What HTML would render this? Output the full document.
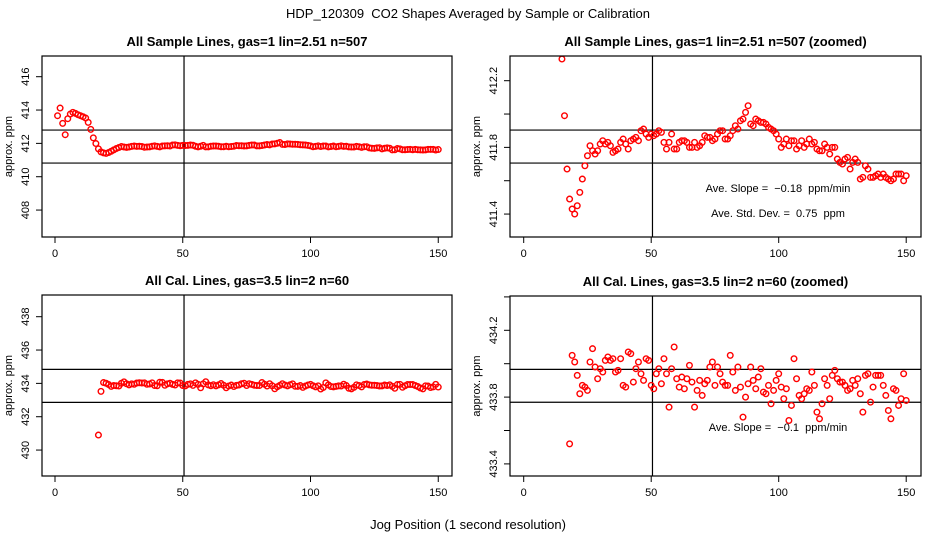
<!DOCTYPE html>
<html><head><meta charset="utf-8">
<style>
html,body{margin:0;padding:0;background:#fff;width:936px;height:540px;overflow:hidden;}
svg{display:block;font-family:"Liberation Sans",Arial,sans-serif;}
svg text{white-space:pre;}
</style></head>
<body>
<svg id="chart" width="936" height="540" viewBox="0 0 936 540">
<text x="468" y="18" text-anchor="middle" font-size="13">HDP_120309  CO2 Shapes Averaged by Sample or Calibration</text>
<text x="468" y="529" text-anchor="middle" font-size="13">Jog Position (1 second resolution)</text>
</svg>
<script>
const sampleStart = 1;
const sampleValues = [413.66,414.12,413.2,412.52,413.48,413.76,413.86,413.8,413.72,413.66,413.6,413.52,413.26,412.84,
412.33,411.99,411.67,411.49,411.43,411.40,411.45,411.53,411.61,411.69,411.75,411.81,411.78,411.76,411.78,411.82,
411.84,411.82,411.83,411.81,411.77,411.78,411.79,411.83,411.85,411.82,411.79,411.84,411.85,411.86,411.84,411.90,
411.91,411.88,411.86,411.88,411.87,411.88,411.90,411.89,411.83,411.79,411.83,411.88,411.79,411.79,411.83,411.84,
411.84,411.83,411.80,411.80,411.83,411.80,411.81,411.83,411.87,411.86,411.86,411.84,411.85,411.88,411.90,411.90,
411.85,411.85,411.87,411.90,411.93,411.91,411.96,411.97,412.01,412.05,411.94,411.93,411.97,411.96,411.95,411.95,
411.94,411.92,411.91,411.90,411.88,411.85,411.80,411.82,411.85,411.81,411.84,411.84,411.79,411.81,411.84,411.80,
411.82,411.85,411.82,411.83,411.79,411.78,411.78,411.82,411.80,411.76,411.80,411.80,411.73,411.71,411.70,411.73,
411.74,411.67,411.71,411.73,411.71,411.61,411.62,411.69,411.67,411.62,411.62,411.63,411.64,411.62,411.64,411.62,
411.61,411.60,411.61,411.64,411.64,411.64,411.60,411.63];
const calStart = 17;
const calValues = [430.9,433.52,434.05,434.01,433.93,433.82,433.87,433.86,433.84,434.01,434.09,433.98,433.91,433.97,
433.95,434.02,434.04,434.02,434.03,433.95,433.96,434.03,433.87,433.86,434.07,434.06,433.89,433.97,434.01,433.94,
433.90,434.03,434.02,433.87,433.85,433.94,433.97,433.88,434.03,433.94,433.74,433.97,434.10,433.91,433.86,433.92,
433.85,433.91,433.99,433.89,433.74,433.84,433.90,433.81,433.88,433.90,433.98,434.01,433.87,433.98,433.94,433.89,
433.87,433.87,434.05,433.95,433.84,433.98,433.86,433.68,433.80,433.88,433.98,433.90,433.85,433.92,433.97,433.83,
433.82,433.87,433.76,433.84,433.90,433.94,433.86,433.79,433.85,433.66,433.75,434.03,433.91,433.81,433.79,433.82,
433.85,433.84,433.95,433.87,433.71,433.67,433.76,433.91,433.87,433.79,433.93,433.96,433.91,433.89,433.89,433.87,
433.84,433.85,433.90,433.87,433.91,433.82,433.71,433.93,433.94,433.77,433.86,433.93,433.93,433.93,433.87,433.81,
433.72,433.67,433.85,433.84,433.75,433.79,433.94,433.78];
const xTicks = [0,50,100,150];
const p1Ticks = [408,410,412,414,416];
const p2Ticks = [411.4,411.6,411.8,412.0,412.2];
const p2Labels = ["411.4","","411.8","","412.2"];
const p3Ticks = [430,432,434,436,438];
const p4Ticks = [433.4,433.6,433.8,434.0,434.2,434.4];
const p4Labels = ["433.4","","433.8","","434.2",""];
const p1HLines = [412.8,410.82];
const p2HLines = [411.904,411.706];
const p3HLines = [434.84,432.86];
const p4HLines = [433.966,433.769];
const vLineAt = [50.5];

const NS="http://www.w3.org/2000/svg";
const svg=document.getElementById('chart');
function mk(tag,attrs,parent){const e=document.createElementNS(NS,tag);for(const k in attrs)e.setAttribute(k,attrs[k]);(parent||svg).appendChild(e);return e;}

function panel(cfg){
  const g=mk('g',{});
  
  
  const {L,R,T,B,x0,xs,yRef,yRefPix,ys}=cfg;
  const X=v=>x0+v*xs, Y=v=>yRefPix-(v-yRef)*ys;
  const cid='clip-'+cfg.name;
  const cp=mk('clipPath',{id:cid},g);mk('rect',{x:L,y:T,width:R-L,height:B-T},cp);
  const t=mk('text',{x:(L+R)/2,y:T-10,'text-anchor':'middle','font-size':13,'font-weight':'bold'},g);
  t.textContent=cfg.title;
  
  
  xTicks.forEach(v=>{
    const tk=mk('line',{x1:X(v),x2:X(v),y1:B,y2:B+6,stroke:'#000'},g);
    
    
    const tl=mk('text',{x:X(v),y:B+20,'text-anchor':'middle','font-size':11},g);tl.textContent=v;
    
    
  });
  cfg.yTicks.forEach((v,i)=>{
    const y=Y(v);
    const tk=mk('line',{x1:L-6,x2:L,y1:y,y2:y,stroke:'#000'},g);
    
    
    const lab=cfg.yLabels?cfg.yLabels[i]:String(v);
    if(lab){
      const tl=mk('text',{x:L-13,y:y,'text-anchor':'middle','font-size':11,transform:`rotate(-90 ${L-13} ${y})`},g);
      tl.textContent=lab;
      
      
    }
  });
  const yl=mk('text',{x:L-30,y:(T+B)/2,'text-anchor':'middle','font-size':11,transform:`rotate(-90 ${L-30} ${(T+B)/2})`},g);
  yl.textContent='approx. ppm';
  
  
  const inner=mk('g',{'clip-path':`url(#${cid})`},g);
  cfg.hLines.forEach(v=>{
    const l=mk('line',{x1:L,x2:R,y1:Y(v),y2:Y(v),stroke:'#000','stroke-width':1.2},inner);
    
    
  });
  vLineAt.forEach(v=>{
    const l=mk('line',{x1:X(v),x2:X(v),y1:T,y2:B,stroke:'#000','stroke-width':1.2},inner);
    
    
  });
  cfg.values.forEach((v,i)=>{
    const c=mk('circle',{cx:X(cfg.start+i),cy:Y(v),r:2.8,fill:'none',stroke:'#f00','stroke-width':1.4},inner);
    
    
  });
  const box=mk('rect',{x:L,y:T,width:R-L,height:B-T,fill:'none',stroke:'#000','stroke-width':1.2},g);
  
  
  (cfg.notes||[]).forEach(n=>{
    const tx=mk('text',{x:n.x,y:n.y,'text-anchor':'middle','font-size':11},g);tx.textContent=n.t;
    
    
  });
}

panel({name:'panel-sample',title:'All Sample Lines, gas=1 lin=2.51 n=507',L:42,R:452,T:56,B:237,x0:55,xs:2.555,yRef:416,yRefPix:76.7,ys:16.67,yTicks:p1Ticks,hLines:p1HLines,values:sampleValues,start:sampleStart});
panel({name:'panel-sample-zoomed',title:'All Sample Lines, gas=1 lin=2.51 n=507 (zoomed)',L:510,R:921,T:56,B:237,x0:523.7,xs:2.55,yRef:412.2,yRefPix:80.7,ys:166.7,yTicks:p2Ticks,yLabels:p2Labels,hLines:p2HLines,values:sampleValues,start:sampleStart,
  notes:[{x:778,y:192,t:'Ave. Slope =  \u22120.18  ppm/min'},{x:778,y:217,t:'Ave. Std. Dev. =  0.75  ppm'}]});
panel({name:'panel-cal',title:'All Cal. Lines, gas=3.5 lin=2 n=60',L:42,R:452,T:295,B:476,x0:55,xs:2.555,yRef:438,yRefPix:316.7,ys:16.67,yTicks:p3Ticks,hLines:p3HLines,values:calValues,start:calStart});
panel({name:'panel-cal-zoomed',title:'All Cal. Lines, gas=3.5 lin=2 n=60 (zoomed)',L:510,R:921,T:296,B:476,x0:523.7,xs:2.55,yRef:434.2,yRefPix:330.3,ys:167,yTicks:p4Ticks,yLabels:p4Labels,hLines:p4HLines,values:calValues,start:calStart,
  notes:[{x:778,y:431,t:'Ave. Slope =  \u22120.1  ppm/min'}]});
</script>
</body></html>
